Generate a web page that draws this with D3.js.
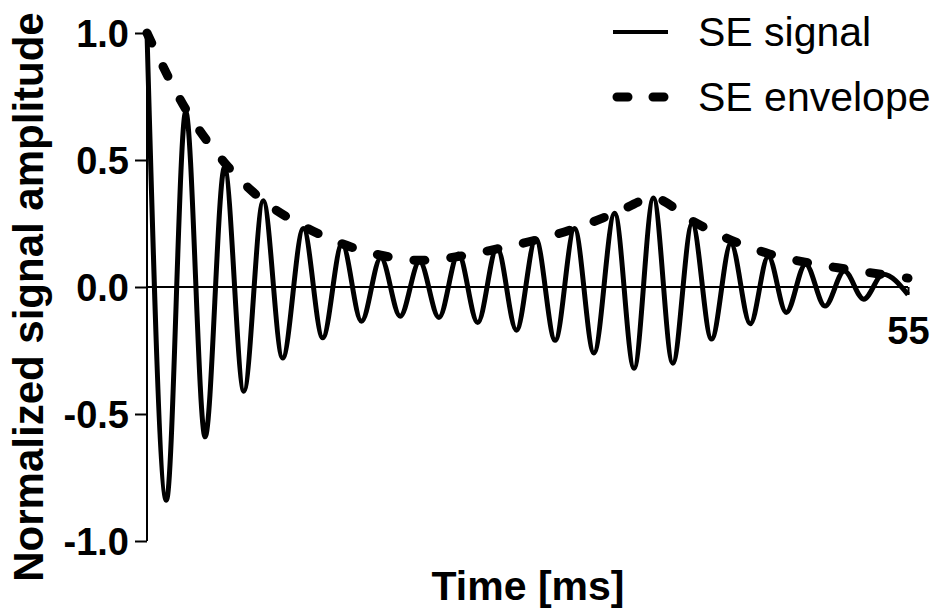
<!DOCTYPE html>
<meta charset="utf-8">
<style>
body { margin: 0; background: #fff; }
text { font-family: "Liberation Sans", Arial, sans-serif; fill: #000; }
.tick text { font-weight: bold; font-size: 38px; }
.axis path, .axis line { stroke: #000; stroke-width: 2px; }
</style>
<svg width="937" height="613"></svg>
<script src="https://cdn.jsdelivr.net/npm/d3@7"></script>
<script>

// signal extrema (time in ms, normalized amplitude)
var peakTimes = [0, 2.8, 5.6, 8.4, 11.3, 14.1, 16.9, 19.7, 22.5, 25.3, 28.1, 30.9, 33.8, 36.6, 39.4, 42.2, 44.9, 47.6, 50.4, 53.2];
var peakValues = [1.0, 0.69, 0.47, 0.34, 0.23, 0.17, 0.115, 0.10, 0.13, 0.155, 0.19, 0.23, 0.29, 0.35, 0.25, 0.17, 0.12, 0.09, 0.063, 0.05];
var troughTimes = [1.4, 4.2, 7.0, 9.8, 12.7, 15.5, 18.3, 21.1, 23.9, 26.7, 29.5, 32.3, 35.2, 38.0, 40.8, 43.6, 46.2, 49.0, 51.8];
var troughValues = [-0.84, -0.59, -0.41, -0.28, -0.20, -0.135, -0.115, -0.12, -0.14, -0.17, -0.21, -0.26, -0.32, -0.30, -0.205, -0.145, -0.10, -0.075, -0.048];
var endPoint = [55, -0.03];

// envelope
var envTimes = [0, 2.8, 5.6, 8.4, 11.3, 14.1, 16.9, 19.7, 22.5, 25.3, 28.1, 30.9, 33.8, 36.6, 39.4, 42.2, 45.0, 47.8, 50.6, 55];
var envValues = [1.0, 0.70, 0.49, 0.34, 0.24, 0.17, 0.125, 0.105, 0.12, 0.15, 0.185, 0.23, 0.29, 0.35, 0.26, 0.185, 0.13, 0.095, 0.07, 0.035];

var yTicks = [-1.0, -0.5, 0.0, 0.5, 1.0];
var xTicks = [55];

var svg = d3.select("svg"),
    margin = {top: 33, left: 147},
    width = 761,
    height = 508;

var x = d3.scaleLinear().domain([0, 55]).range([0, width]),
    y = d3.scaleLinear().domain([-1, 1]).range([height, 0]);

var fmt = d3.format(".1f");

var g = svg.append("g")
    .attr("transform", "translate(" + margin.left + "," + margin.top + ")");

// signal points: interleave peaks and troughs
var signal = [];
peakTimes.forEach(function(t, i) { signal.push([t, peakValues[i]]); });
troughTimes.forEach(function(t, i) { signal.push([t, troughValues[i]]); });
signal.push(endPoint);
signal.sort(function(a, b) { return a[0] - b[0]; });

var envelope = envTimes.map(function(t, i) { return [t, envValues[i]]; });

// axes
g.append("g")
    .attr("class", "axis axis--y")
    .call(d3.axisLeft(y).tickValues(yTicks)
        .tickFormat(function(d) { return fmt(d).replace("\u2212", "-"); })
        .tickSize(12).tickPadding(6))
  .call(function(a) {
    a.select(".domain").attr("d", "M0,0V" + height);
    a.selectAll(".tick text").attr("dy", "0.36em");
  });

g.append("g")
    .attr("class", "axis axis--x")
    .attr("transform", "translate(0," + y(0) + ")")
    .call(d3.axisBottom(x).tickValues(xTicks).tickSize(8).tickPadding(22))
  .call(function(a) {
    a.select(".domain").attr("d", "M0,0H" + width);
  });

g.append("path")
    .datum(signal)
    .attr("fill", "none")
    .attr("stroke", "#000")
    .attr("stroke-width", 5)
    .attr("d", d3.line()
        .curve(d3.curveMonotoneX)
        .x(function(d) { return x(d[0]); })
        .y(function(d) { return y(d[1]); }));

g.append("path")
    .datum(envelope)
    .attr("fill", "none")
    .attr("stroke", "#000")
    .attr("stroke-width", 9)
    .attr("stroke-linecap", "round")
    .attr("stroke-dasharray", "11,26")
    .attr("d", d3.line()
        .curve(d3.curveMonotoneX)
        .x(function(d) { return x(d[0]); })
        .y(function(d) { return y(d[1]); }));

// titles
svg.append("text")
    .attr("x", 528)
    .attr("y", 600)
    .attr("text-anchor", "middle")
    .style("font-weight", "bold")
    .style("font-size", "41px")
    .text("Time [ms]");

svg.append("text")
    .attr("transform", "translate(43,297) rotate(-90)")
    .attr("text-anchor", "middle")
    .style("font-weight", "bold")
    .style("font-size", "42px")
    .text("Normalized signal amplitude");

// legend
var legend = svg.append("g");
legend.append("line")
    .attr("x1", 613).attr("x2", 668).attr("y1", 32).attr("y2", 32)
    .attr("stroke", "#000").attr("stroke-width", 4);
legend.append("line")
    .attr("x1", 617).attr("x2", 664).attr("y1", 97).attr("y2", 97)
    .attr("stroke", "#000").attr("stroke-width", 9)
    .attr("stroke-linecap", "round")
    .attr("stroke-dasharray", "11,25");
legend.append("text")
    .attr("x", 698).attr("y", 46)
    .style("font-size", "41px")
    .text("SE signal");
legend.append("text")
    .attr("x", 698).attr("y", 111)
    .style("font-size", "41px")
    .text("SE envelope");

</script>
